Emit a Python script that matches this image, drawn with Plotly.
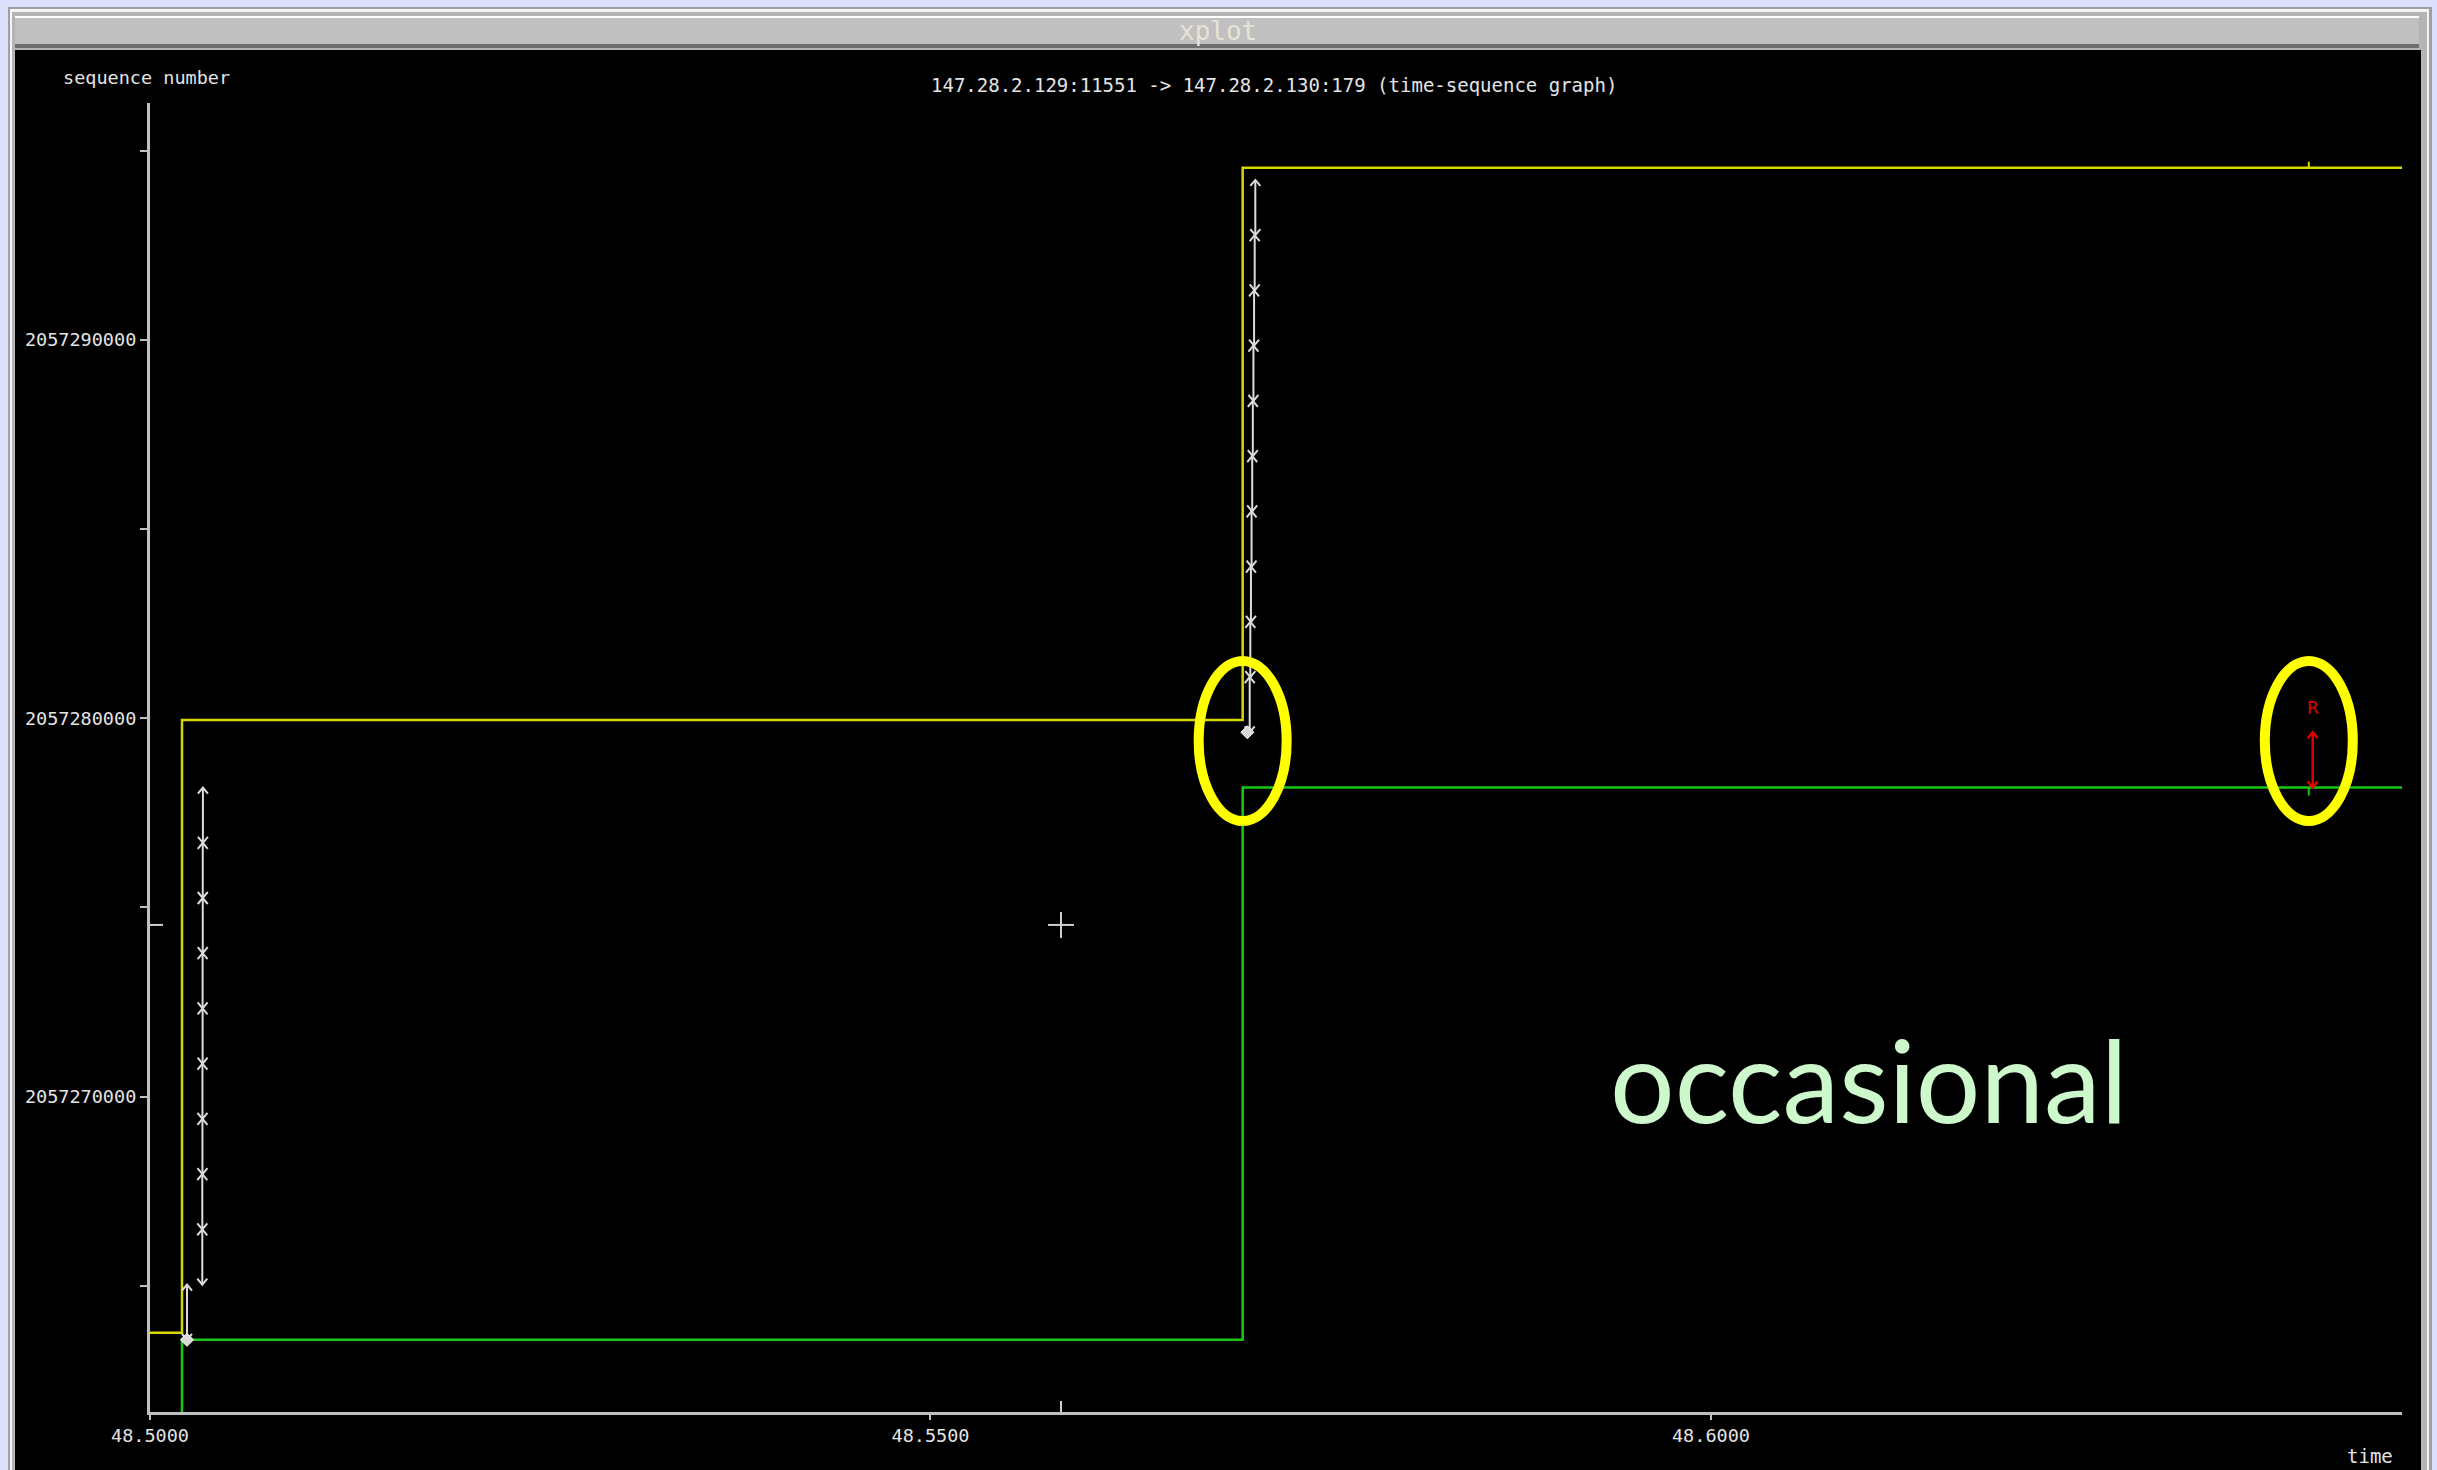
import plotly.graph_objects as go

# ---- figure / plot-area geometry (pixels) ----
W, H = 2437, 1470
PLOT_L, PLOT_R, PLOT_T, PLOT_B = 150, 2402, 103, 1412

# ---- axes ----
time_range = [48.5, 48.64427]
seq_range = [2057261663, 2057296265]

x_tick_vals = [48.50, 48.55, 48.60]
x_tick_text = ["48.5000", "48.5500", "48.6000"]
y_tick_vals = [2057265000, 2057270000, 2057275000, 2057280000,
               2057285000, 2057290000, 2057295000]
y_tick_text = ["", "2057270000", "", "2057280000", "", "2057290000", ""]

# ---- advertised window edge (yellow step) ----
win_time = [48.5000, 48.50205, 48.5700, 48.6444]
win_seq = [2057263760, 2057279954, 2057294554, 2057294554]

# ---- cumulative ack (green step) ----
ack_time = [48.50205, 48.50205, 48.5700, 48.6444]
ack_seq = [2057261000, 2057263570, 2057278170, 2057278170]

# ---- data segments sent (white arrows) ----
seg_time = [48.50237,
            48.50335, 48.50335, 48.50336, 48.50336, 48.50337,
            48.50337, 48.50338, 48.50338, 48.50339,
            48.57045, 48.57049, 48.57053, 48.57057, 48.57061,
            48.57065, 48.57069, 48.57073, 48.57077, 48.57081]
seg_start = [2057263570,
             2057265030, 2057266490, 2057267950, 2057269410, 2057270870,
             2057272330, 2057273790, 2057275250, 2057276710,
             2057279630, 2057281090, 2057282550, 2057284010, 2057285470,
             2057286930, 2057288390, 2057289850, 2057291310, 2057292770]
seg_end = [2057265030,
           2057266490, 2057267950, 2057269410, 2057270870, 2057272330,
           2057273790, 2057275250, 2057276710, 2057278170,
           2057281090, 2057282550, 2057284010, 2057285470, 2057286930,
           2057288390, 2057289850, 2057291310, 2057292770, 2057294230]

# ---- retransmitted segment (red) ----
rexmit_time = [48.63855]
rexmit_start = [2057278170]
rexmit_end = [2057279630]

# ---- diamond markers ----
diamond_time = [48.50237, 48.57030]
diamond_seq = [2057263570, 2057279630]

# ---- window / ack tick marks ----
ack_tick_time = 48.6383
win_tick_seq = 2057294554
ack_tick_seq = 2057278170

# ---- cursor position ----
cursor_time = 48.55836
cursor_seq = 2057274538

# ---- highlight ellipses ----
ring_time = [48.5700, 48.6383]
ring_seq = [2057279400, 2057279400]

# pixel scale of the axes
px_per_sec = (PLOT_R - PLOT_L) / (time_range[1] - time_range[0])
px_per_byte = (PLOT_B - PLOT_T) / (seq_range[1] - seq_range[0])
HEAD_W = 5 / px_per_sec    # arrowhead half-width
HEAD_H = 6 / px_per_byte   # arrowhead height


def px(xp):
    return (xp - PLOT_L) / (PLOT_R - PLOT_L)


def py(yp):
    return (PLOT_B - yp) / (PLOT_B - PLOT_T)


def arrow_paths(times, starts, ends):
    xs, ys = [], []
    for t, s, e in zip(times, starts, ends):
        # shaft
        xs += [t, t, None]
        ys += [s, e, None]
        # up arrowhead at the segment end
        xs += [t - HEAD_W, t, t + HEAD_W, None]
        ys += [e - HEAD_H, e, e - HEAD_H, None]
        # down arrowhead at the segment start
        xs += [t - HEAD_W, t, t + HEAD_W, None]
        ys += [s + HEAD_H, s, s + HEAD_H, None]
    return xs, ys


fig = go.Figure()

fig.add_trace(go.Scatter(x=win_time, y=win_seq, mode="lines",
                         line=dict(color="#d8d800", width=2.5, shape="hv"),
                         hoverinfo="skip"))
fig.add_trace(go.Scatter(x=ack_time, y=ack_seq, mode="lines",
                         line=dict(color="#18c818", width=2.5, shape="hv"),
                         hoverinfo="skip"))

sx, sy = arrow_paths(seg_time, seg_start, seg_end)
fig.add_trace(go.Scatter(x=sx, y=sy, mode="lines",
                         line=dict(color="#dcdcdc", width=2),
                         hoverinfo="skip"))

rx, ry = arrow_paths(rexmit_time, rexmit_start, rexmit_end)
fig.add_trace(go.Scatter(x=rx, y=ry, mode="lines",
                         line=dict(color="#e00000", width=2.5),
                         hoverinfo="skip"))

fig.add_trace(go.Scatter(x=diamond_time, y=diamond_seq, mode="markers",
                         marker=dict(symbol="diamond", size=10, color="#d8d8d8",
                                     line=dict(color="#ffffff", width=1)),
                         hoverinfo="skip"))

shapes = []
# window chrome (behind everything)
shapes += [
    dict(type="rect", xref="paper", yref="paper", layer="below",
         x0=px(8), x1=px(2432), y0=py(7), y1=py(1475),
         fillcolor="#a0a0a0", line=dict(width=0)),
    dict(type="rect", xref="paper", yref="paper", layer="below",
         x0=px(10), x1=px(2429), y0=py(9), y1=py(1475),
         fillcolor="#f4f4f4", line=dict(width=0)),
    dict(type="rect", xref="paper", yref="paper", layer="below",
         x0=px(12), x1=px(2427), y0=py(12), y1=py(1475),
         fillcolor="#b4b4b4", line=dict(width=0)),
    dict(type="rect", xref="paper", yref="paper", layer="below",
         x0=px(15), x1=px(2419), y0=py(16), y1=py(18),
         fillcolor="#ffffff", line=dict(width=0)),
    dict(type="rect", xref="paper", yref="paper", layer="below",
         x0=px(15), x1=px(2419), y0=py(18), y1=py(44),
         fillcolor="#c0c0c0", line=dict(width=0)),
    dict(type="rect", xref="paper", yref="paper", layer="below",
         x0=px(15), x1=px(2419), y0=py(44), y1=py(48),
         fillcolor="#6e6e6e", line=dict(width=0)),
    dict(type="rect", xref="paper", yref="paper", layer="below",
         x0=px(15), x1=px(2421), y0=py(50), y1=py(1475),
         fillcolor="#000000", line=dict(width=0)),
]

# highlight ellipses
for t, s in zip(ring_time, ring_seq):
    shapes.append(dict(type="circle", xref="x", yref="y",
                       xsizemode="pixel", ysizemode="pixel",
                       xanchor=t, yanchor=s,
                       x0=-44, x1=44, y0=-80, y1=80,
                       line=dict(color="#ffff00", width=10)))

# window / ack tick marks
shapes.append(dict(type="line", xref="x", yref="y", ysizemode="pixel",
                   yanchor=win_tick_seq, x0=ack_tick_time, x1=ack_tick_time,
                   y0=0, y1=6, line=dict(color="#d8d800", width=2)))
shapes.append(dict(type="line", xref="x", yref="y", ysizemode="pixel",
                   yanchor=ack_tick_seq, x0=ack_tick_time, x1=ack_tick_time,
                   y0=0, y1=-8, line=dict(color="#18c818", width=2)))

# cursor cross-hair and its axis markers
shapes.append(dict(type="line", xref="x", yref="y", xsizemode="pixel",
                   xanchor=cursor_time, x0=-13, x1=13, y0=cursor_seq, y1=cursor_seq,
                   line=dict(color="#d0d0d0", width=2)))
shapes.append(dict(type="line", xref="x", yref="y", ysizemode="pixel",
                   yanchor=cursor_seq, y0=-13, y1=13, x0=cursor_time, x1=cursor_time,
                   line=dict(color="#d0d0d0", width=2)))
shapes.append(dict(type="line", xref="x", yref="paper", ysizemode="pixel",
                   yanchor=0, y0=0, y1=11, x0=cursor_time, x1=cursor_time,
                   line=dict(color="#d0d0d0", width=2)))
shapes.append(dict(type="line", xref="paper", yref="y", xsizemode="pixel",
                   xanchor=0, x0=0, x1=13, y0=cursor_seq, y1=cursor_seq,
                   line=dict(color="#d0d0d0", width=2)))

mono = "DejaVu Sans Mono"
annotations = [
    dict(text="xplot", xref="paper", yref="paper", x=px(1218), y=py(31),
         xanchor="center", yanchor="middle", showarrow=False,
         font=dict(family=mono, size=26, color="#e8e2d4")),
    dict(text="sequence number", xref="paper", yref="paper", x=px(61), y=py(77),
         xanchor="left", yanchor="middle", showarrow=False,
         font=dict(family=mono, size=18.5, color="#e4e4e4")),
    dict(text="147.28.2.129:11551 -> 147.28.2.130:179 (time-sequence graph)",
         xref="paper", yref="paper", x=px(1274), y=py(85),
         xanchor="center", yanchor="middle", showarrow=False,
         font=dict(family=mono, size=19, color="#e4e4e4")),
    dict(text="time", xref="paper", yref="paper", x=px(2370), y=py(1456),
         xanchor="center", yanchor="middle", showarrow=False,
         font=dict(family=mono, size=19, color="#e4e4e4")),
    dict(text="R", xref="x", yref="y", x=rexmit_time[0], y=rexmit_end[0],
         yshift=24, xanchor="center", yanchor="middle", showarrow=False,
         font=dict(family="DejaVu Sans", size=17, color="#e00000")),
    dict(text="occasional", xref="paper", yref="paper", x=px(1869), y=py(1078),
         xanchor="center", yanchor="middle", showarrow=False,
         font=dict(family="Lato", size=114, color="#ccf8cc")),
]

axis_common = dict(showgrid=False, zeroline=False, showline=True,
                   linecolor="#c0c0c0", linewidth=3, ticks="outside",
                   tickcolor="#c0c0c0", tickwidth=2,
                   tickfont=dict(family=mono, size=18.5, color="#e4e4e4"),
                   fixedrange=True)

fig.update_layout(
    width=W, height=H, autosize=False,
    margin=dict(l=PLOT_L, r=W - PLOT_R, t=PLOT_T, b=H - PLOT_B, pad=0),
    paper_bgcolor="#dde0fd", plot_bgcolor="rgba(0,0,0,0)",
    showlegend=False,
    xaxis=dict(range=time_range, tickmode="array", tickvals=x_tick_vals,
               ticktext=x_tick_text, ticklen=5, **axis_common),
    yaxis=dict(range=seq_range, tickmode="array", tickvals=y_tick_vals,
               ticktext=y_tick_text, ticklen=7, **axis_common),
    shapes=shapes,
    annotations=annotations,
)

fig.write_html("out.html", config={"displayModeBar": False})
